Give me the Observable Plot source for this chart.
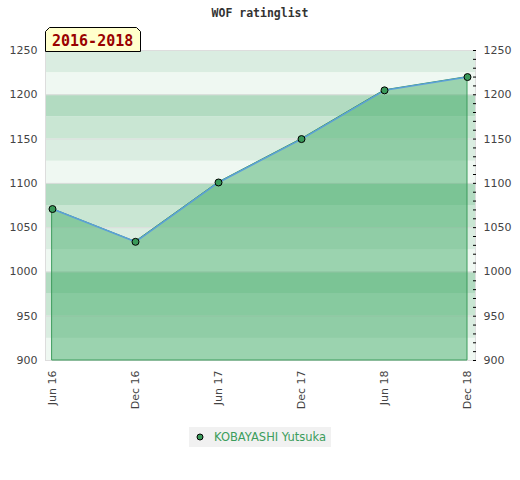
<!DOCTYPE html>
<html>
<head>
<meta charset="utf-8">
<script src="https://cdn.jsdelivr.net/npm/d3@7"></script>
<script src="https://cdn.jsdelivr.net/npm/@observablehq/plot@0.6"></script>
<style>
  body { margin: 0; background: #fff; }
  #wrap { position: relative; width: 520px; height: 480px; font-family: "DejaVu Sans", sans-serif; }
  #title { position: absolute; top: 0; left: 0; width: 520px; text-align: center; line-height: 26px;
           font-family: "DejaVu Sans Mono", monospace; font-weight: bold; font-size: 11.5px; color: #333; }
  #chart { position: absolute; top: 0; left: 0; }
  #badge { position: absolute; left: 45px; top: 27px; }
  #legend { position: absolute; left: 189px; top: 427px; width: 142px; height: 20px; background: #f1f1f1;
            font-size: 11.5px; color: #3c9d5c; line-height: 20px; }
  #legend svg { position: absolute; left: 6px; top: 5px; }
  #legend span { position: absolute; left: 25px; top: 0; white-space: nowrap; }
</style>
</head>
<body>
<div id="wrap">
  <div id="chart"></div>
  <div id="title">WOF ratinglist</div>
  <svg id="badge" width="97" height="25">
    <polygon points="0.5,24.5 0.5,4.5 4.5,0.5 91.5,0.5 95.5,4.5 95.5,24.5" fill="#ffffcc" stroke="#000" stroke-width="1"/>
    <text x="7" y="18.5" font-family="DejaVu Sans Mono" font-weight="bold" font-size="15" fill="#990000">2016-2018</text>
  </svg>
  <div id="legend">
    <svg width="12" height="10"><circle cx="5" cy="5" r="3" fill="#3a9a5a" stroke="#000" stroke-width="1"/></svg>
    <span>KOBAYASHI Yutsuka</span>
  </div>
</div>
<script>
const dates = ["Jun 16", "Dec 16", "Jun 17", "Dec 17", "Jun 18", "Dec 18"];
const ratings = [1071, 1034, 1101, 1150, 1205, 1220];
const majorTicks = [900, 950, 1000, 1050, 1100, 1150, 1200, 1250];
const minorTicks = d3.range(900, 1251, 10);
const bandStarts = d3.range(900, 1250, 25);
const bandColors = ["#eff8f2", "#daede1", "#c9e6d3", "#b2dbc1"];

const data = dates.map((d, i) => ({date: d, rating: ratings[i]}));
const bands = bandStarts.map((y, i) => ({y1: y, y2: y + 25, c: bandColors[i % 4]}));

const chart = Plot.plot({
  width: 520,
  height: 420,
  marginTop: 50,
  marginBottom: 60,
  marginLeft: 45,
  marginRight: 45,
  style: {fontFamily: "DejaVu Sans", fontSize: "11px", color: "#444", background: "transparent"},
  x: {type: "point", domain: dates, padding: 0, insetLeft: 6, insetRight: 8},
  y: {domain: [900, 1250]},
  marks: [
    Plot.rect(bands, {y1: "y1", y2: "y2", fill: d => d.c}),
    Plot.ruleY(majorTicks, {stroke: "#dddddd"}),
    Plot.frame({stroke: "#dddddd"}),
    Plot.areaY(data, {x: "date", y1: 900, y2: "rating", fill: "#3daa63", fillOpacity: 0.47, stroke: "#3a9a5a", strokeWidth: 1}),
    Plot.line(data, {x: "date", y: "rating", stroke: "#5b9fd8", strokeWidth: 1.5}),
    Plot.dot(data, {x: "date", y: "rating", r: 3.5, fill: "#3a9a5a", stroke: "#000", strokeWidth: 1}),
    Plot.axisY({anchor: "left", ticks: majorTicks, tickFormat: "d", tickSize: 0, tickPadding: 8, label: null}),
    Plot.axisY({anchor: "right", ticks: majorTicks, tickFormat: "d", tickSize: 0, tickPadding: 8, label: null}),
    Plot.axisY({anchor: "right", ticks: minorTicks, tickSize: 3, dx: -3, tickFormat: () => "", label: null, stroke: "#000"}),
    Plot.axisX({tickRotate: -90, tickSize: 0, tickPadding: 10, label: null})
  ]
});
document.getElementById("chart").appendChild(chart);
</script>
</body>
</html>
